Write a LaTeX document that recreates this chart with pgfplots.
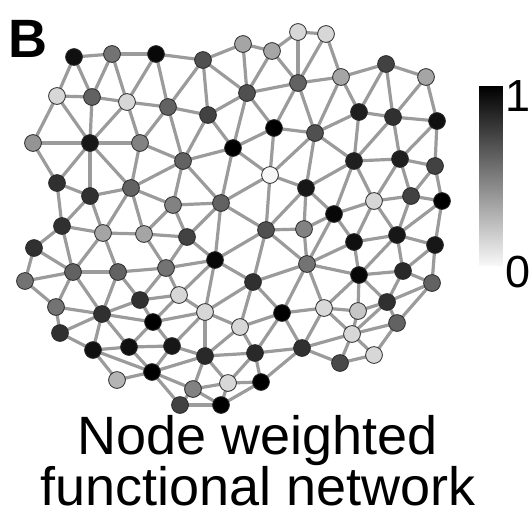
\documentclass[border=0pt]{standalone}
\usepackage{pgfplots}
\usepackage{pgfplotstable}
\pgfplotsset{compat=1.18}
\usepackage{fontspec}
\setmainfont{Liberation Sans}

\definecolor{edgegray}{RGB}{155,155,155}
\definecolor{rimgray}{RGB}{40,40,40}

% node id, position (px, y downward) and weight in [0,1]
\pgfplotstableread{
id x y w
1 74 57 0.93
2 112 54 0.53
3 156 54 0.96
4 203 60 0.67
5 243 44 0.33
6 272 51 0.33
7 298 32 0.13
8 326 34 0.13
9 57 96 0.13
10 92 97 0.60
11 127 102 0.13
12 168 107 0.60
13 208 115 0.73
14 247 93 0.67
15 298 83 0.60
16 341 77 0.33
17 386 64 0.73
18 426 77 0.33
19 33 143 0.40
20 90 143 0.90
21 140 143 0.47
22 183 161 0.60
23 233 148 1.00
24 274 128 1.00
25 315 133 0.67
26 359 112 0.87
27 393 117 0.80
28 437 121 0.93
29 270 175 0.00
30 306 188 0.90
31 354 161 0.87
32 400 159 0.87
33 435 166 0.73
34 57 183 0.80
35 90 196 0.80
36 131 188 0.60
37 173 205 0.47
38 221 203 0.60
39 374 201 0.13
40 411 196 0.73
41 442 201 1.00
42 334 214 0.96
43 62 226 0.80
44 103 233 0.33
45 144 234 0.33
46 187 237 0.73
47 266 230 0.67
48 304 229 0.47
49 354 242 0.93
50 397 235 0.90
51 435 245 0.90
52 34 248 0.80
53 215 260 0.96
54 307 264 0.53
55 359 275 0.96
56 403 271 0.83
57 432 283 0.60
58 25 281 0.53
59 73 272 0.60
60 118 272 0.60
61 166 268 0.53
62 253 282 0.80
63 56 307 0.53
64 102 314 0.80
65 140 300 0.80
66 179 295 0.13
67 205 312 0.13
68 240 327 0.13
69 282 313 1.00
70 324 308 0.12
71 358 311 0.20
72 387 302 0.80
73 397 323 0.60
74 60 333 0.80
75 153 322 1.00
76 93 350 0.93
77 129 347 0.93
78 172 346 0.90
79 205 356 0.83
80 255 353 0.83
81 302 348 0.80
82 352 334 0.13
83 374 355 0.13
84 340 363 0.70
85 117 380 0.27
86 152 372 1.00
87 193 389 0.47
88 228 383 0.13
89 261 382 1.00
90 180 405 0.73
91 221 405 1.00
}\nodetable

% links between nodes (by id)
\pgfplotstableread{
a b
1 2
2 3
3 4
4 5
5 6
6 7
7 8
1 9
1 10
2 10
2 11
3 11
3 12
4 12
4 13
4 14
5 14
6 14
6 15
7 15
8 15
8 16
9 10
10 11
11 12
12 13
13 14
14 15
15 16
16 17
17 18
9 19
9 20
10 20
11 20
11 21
12 21
12 22
13 22
13 23
14 23
14 24
15 24
15 25
16 25
16 26
17 26
17 27
18 27
18 28
19 20
20 21
21 22
22 23
23 24
24 25
25 26
26 27
27 28
19 34
20 34
20 35
20 36
21 36
22 36
22 37
22 38
23 38
23 29
24 29
25 29
25 30
25 31
26 31
27 31
27 32
28 32
28 33
34 35
35 36
36 37
37 38
38 29
29 30
30 31
31 32
32 33
34 43
35 43
35 44
36 44
36 45
37 45
37 46
38 46
38 47
38 53
29 47
30 47
30 48
30 42
31 42
31 39
32 39
32 40
33 40
33 41
43 44
44 45
45 46
47 48
48 42
42 39
39 40
40 41
43 52
43 59
44 59
44 60
45 61
46 61
46 53
53 47
47 54
48 54
42 54
42 49
39 49
39 50
40 50
41 50
41 51
52 58
52 59
58 59
59 60
60 61
61 53
53 62
47 62
62 54
54 49
49 50
50 51
49 55
50 55
50 56
51 56
51 57
54 55
55 56
56 57
58 63
59 63
59 64
60 64
60 65
61 65
61 66
53 66
53 67
62 67
62 68
62 69
54 69
54 70
55 70
55 71
55 72
56 72
57 72
57 73
63 64
64 65
65 66
66 67
67 68
68 69
69 70
70 71
71 72
72 73
63 74
64 74
64 76
64 77
64 75
65 75
66 75
67 75
67 78
67 79
68 79
68 80
69 80
69 81
70 81
70 82
71 82
72 82
73 82
73 83
74 76
76 77
75 77
75 78
77 78
78 79
79 80
80 81
81 82
82 83
82 84
83 84
81 84
76 85
76 86
77 86
78 86
79 86
85 86
86 87
86 90
79 87
79 88
80 88
80 89
81 89
87 88
87 90
87 91
88 91
88 89
89 91
90 91
}\edgetable

\pgfplotstablegetrowsof{\edgetable}
\pgfmathtruncatemacro{\lastedge}{\pgfplotsretval-1}

\begin{document}
\begin{tikzpicture}
\begin{axis}[
  name=main,
  scale only axis, width=532pt, height=517pt,
  xmin=0, xmax=532, ymin=0, ymax=517, y dir=reverse,
  hide axis, clip=false,
  colormap={bw}{gray(0cm)=(0.97); gray(1cm)=(0)},
  point meta min=0, point meta max=1,
  edgeline/.style={draw=edgegray, line width=3.2pt, mark=none, forget plot},
]

% links
\pgfplotsforeachungrouped \k in {0,...,\lastedge}{%
  \pgfplotstablegetelem{\k}{a}\of\edgetable
  \pgfmathtruncatemacro{\ia}{\pgfplotsretval-1}%
  \pgfplotstablegetelem{\k}{b}\of\edgetable
  \pgfmathtruncatemacro{\ib}{\pgfplotsretval-1}%
  \pgfplotstablegetelem{\ia}{x}\of\nodetable \let\xa\pgfplotsretval
  \pgfplotstablegetelem{\ia}{y}\of\nodetable \let\ya\pgfplotsretval
  \pgfplotstablegetelem{\ib}{x}\of\nodetable \let\xb\pgfplotsretval
  \pgfplotstablegetelem{\ib}{y}\of\nodetable \let\yb\pgfplotsretval
  \edef\edgeplot{\noexpand\addplot[edgeline] coordinates {(\xa,\ya) (\xb,\yb)};}%
  \edgeplot
}

% nodes shaded by weight
\addplot[scatter, only marks, mark=*, mark size=8.4pt,
  scatter src=explicit,
  scatter/use mapped color={draw=rimgray, fill=mapped color},
  mark options={line width=0.8pt}]
  table[x=x, y=y, meta=w]{\nodetable};

% colour scale
\addplot[patch, patch type=rectangle, shader=interp, point meta=explicit, forget plot]
  coordinates {(479,86) [1] (502,86) [1] (502,265) [0] (479,265) [0]};

\node[anchor=base west, inner sep=0pt] at (axis cs:8,57)
  {\fontsize{54}{54}\selectfont\bfseries B};
\node[anchor=base west, inner sep=0pt] at (axis cs:505,111)
  {\fontsize{45}{45}\selectfont 1};
\node[anchor=base west, inner sep=0pt] at (axis cs:505,287)
  {\fontsize{45}{45}\selectfont 0};
\node[anchor=base, inner sep=0pt] at (axis cs:258,454)
  {\fontsize{54}{54}\selectfont Node weighted};
\node[anchor=base, inner sep=0pt] at (axis cs:258,505)
  {\fontsize{54}{54}\selectfont functional network};
\end{axis}
\pgfresetboundingbox
\path[use as bounding box] (main.south west) rectangle (main.north east);
\end{tikzpicture}
\end{document}
